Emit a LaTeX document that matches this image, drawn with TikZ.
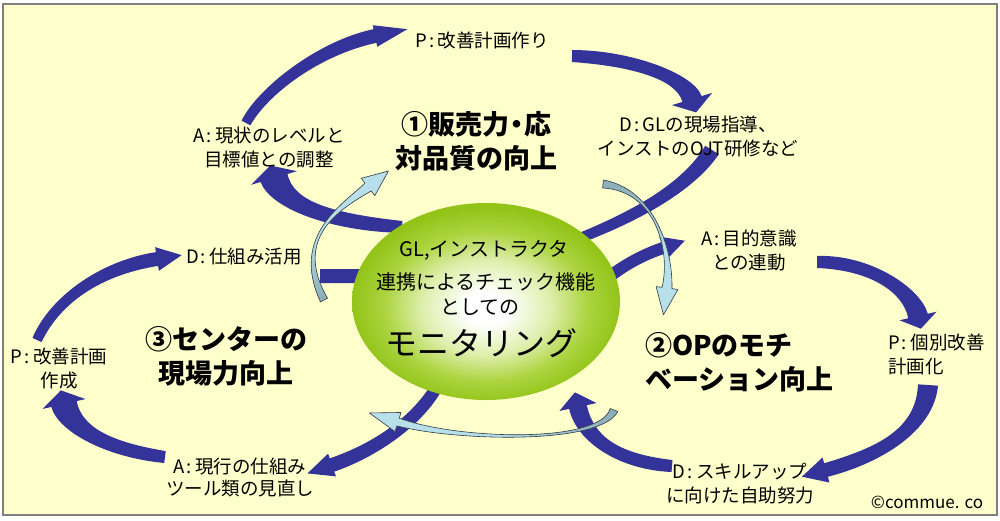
\documentclass[tikz,border=0pt]{standalone}
\usepackage{fontspec}
\setmainfont{Noto Sans CJK JP}
\usetikzlibrary{calc,shapes.geometric}
\definecolor{bgyellow}{RGB}{255,255,204}
\definecolor{framegray}{RGB}{128,128,128}
\definecolor{arrblue}{RGB}{51,51,153}
\definecolor{lblue}{RGB}{183,224,234}
\definecolor{lbgray}{RGB}{140,172,182}
\definecolor{lbline}{RGB}{50,60,70}
\definecolor{gA}{RGB}{222,239,172}
\definecolor{gB}{RGB}{172,212,64}
\definecolor{gC}{RGB}{146,196,24}
\pgfdeclareradialshading{monishade}{\pgfpoint{0bp}{-2bp}}{color(0bp)=(white); color(4bp)=(white); color(12bp)=(gA); color(19bp)=(gB); color(25bp)=(gC); color(50bp)=(gC)}

\def\bandparse#1/#2/#3/#4/#5/#6\relax{\def\bwa{#1}\def\bwb{#2}\def\bwc{#3}\def\bwd{#4}\def\bhw{#5}\def\bhl{#6}}
\newcommand\bandarrow[6][darkarrow]{%
  \bandparse#6\relax
  \path (#2) coordinate (ba) (#3) coordinate (bb) (#4) coordinate (bc) (#5) coordinate (bd);
  \path ($(ba)!\bwa pt!90:(bb)$) coordinate (a1)
        ($(ba)!\bwa pt!-90:(bb)$) coordinate (a2)
        ($(bb)!\bwb pt!-90:(ba)$) coordinate (b1)
        ($(bb)!\bwb pt!90:(ba)$) coordinate (b2)
        ($(bc)!\bwc pt!90:(bd)$) coordinate (c1)
        ($(bc)!\bwc pt!-90:(bd)$) coordinate (c2)
        ($(bd)!\bwd pt!-90:(bc)$) coordinate (d1)
        ($(bd)!\bwd pt!90:(bc)$) coordinate (d2)
        ($(bd)!\bhw pt!-90:(bc)$) coordinate (h1)
        ($(bd)!\bhw pt!90:(bc)$) coordinate (h2)
        ($(bd)!-\bhl pt!(bc)$) coordinate (tip);
  \draw[#1] (a1) .. controls (b1) and (c1) .. (d1) -- (h1) -- (tip) -- (h2) -- (d2)
        .. controls (c2) and (b2) .. (a2) -- cycle;
}
\newcommand\cln{\kern2pt:\kern3.5pt}

\tikzset{
  darkarrow/.style={fill=arrblue, draw=none},
  lightarrow/.style={fill=lblue, draw=lbline, line width=0.6pt, line join=round},
  lbl/.style={inner sep=0pt, font=\fontsize{18.5}{24}\selectfont, align=center},
  ttl/.style={inner sep=0pt, font=\fontsize{27}{34}\selectfont\bfseries, align=center},
  montext/.style={inner sep=0pt, font=\fontsize{20}{24}\selectfont},
}

\begin{document}
\begin{tikzpicture}[x=1pt,y=-1pt]
\useasboundingbox (0,0) rectangle (1000,520);
\fill[white] (0,0) rectangle (1000,520);
\draw[fill=bgyellow, draw=framegray, line width=1.3pt] (3,4) rectangle (997,515);

% dark blue PDCA arrows
% cycle 1
\bandarrow{246,123}{262,92}{318,48}{375,36}{5/6/7/7/11/33}
\bandarrow{572,56}{630,58}{685,76}{692,99}{6/8/9/10/21/14}
\bandarrow{712,150}{690,185}{640,215}{575,240}{8/7/6/5/5/0.1}
\bandarrow{402,227}{330,222}{282,205}{274,178}{6/9/12/14/24/13}
% cycle 2
\bandarrow{605,280}{625,264}{645,254}{663,248}{6/6/6/6/12/23}
\bandarrow{817,262}{870,262}{912,290}{918,316}{6/8/9/10/19/13}
\bandarrow{928,385}{925,430}{880,455}{826,470}{10/9/8/7/13/25}
\bandarrow{672,466}{620,462}{585,440}{578,407}{6/8/9/9/19/15}
% cycle 3
\bandarrow{37,340}{55,300}{100,268}{157,259}{5/6/7/7/12/25}
\bandarrow{320,276}{335,276}{350,276}{372,276}{7/7/7/7/7/0.1}
\bandarrow{438,385}{415,425}{370,452}{332,465}{6/7/7/7/12/26}
\bandarrow{165,457}{110,450}{70,430}{64,404}{6/8/12/13/22/14}

% central ellipse
\node[ellipse, minimum width=268pt, minimum height=197pt, inner sep=0pt, shading=monishade] (mon) at (486,301.5) {};

% light blue arrows
\bandarrow[lightarrow, top color=lblue, bottom color=lbgray, middle color=lblue]{324,300}{290,235}{345,205}{368,187}{4/0.5/1.5/5/11/26}
\bandarrow[lightarrow, top color=lbgray, bottom color=lblue, middle color=lblue]{603,184}{655,190}{672,250}{667,288}{4/0.5/1/5/11/27}
\bandarrow[lightarrow, left color=lblue, right color=lbgray, middle color=lblue]{614,410}{600,445}{455,440}{398,422}{4/1/1/4/10/30}

% texts in ellipse
\node[montext] (m1) at (484,250) {GL,インストラクタ};
\node[montext] (m2) at (486,282) {連携によるチェック機能};
\node[montext] (m3) at (480,307) {としての};
\node[inner sep=0pt, font=\fontsize{32}{36}\selectfont] (m4) at (481,343) {モニタリング};

% titles
\node[ttl] (t1) at (476,141) {①販売力\kern-6pt・\kern-6pt応\\対品質の向上};
\node[ttl] (t3) at (226,356.5) {③センターの\\現場力向上};
\node[ttl, align=left, anchor=west] (t2) at (645,362) {②OPのモチ\\ベーション向上};

% PDCA labels
\node[lbl] (p1) at (482,40) {P\cln 改善計画作り};
\node[lbl] (d1) at (698,136) {D\cln GLの現場指導、\\インストのOJT研修など};
\node[lbl] (a1l) at (269,148) {A\cln 現状のレベルと\\目標値との調整};
\node[lbl] (a2l) at (749,250) {A\cln 目的意識\\との連動};
\node[lbl, align=left, anchor=west] (p2) at (888,354) {P\cln 個別改善\\計画化};
\node[lbl] (d2) at (740,483.5) {D\cln スキルアップ\\に向けた自助努力};
\node[lbl] (d3) at (244,257) {D\cln 仕組み活用};
\node[lbl] (p3) at (59,369) {P\cln 改善計画\\作成};
\node[lbl, font=\fontsize{18.5}{22}\selectfont] (a3) at (240,477) {A\cln 現行の仕組み\\ツール類の見直し};
\node[inner sep=0pt, font=\fontsize{17}{20}\selectfont] (copy) at (927,502) {©commue. co};
\end{tikzpicture}
\end{document}
